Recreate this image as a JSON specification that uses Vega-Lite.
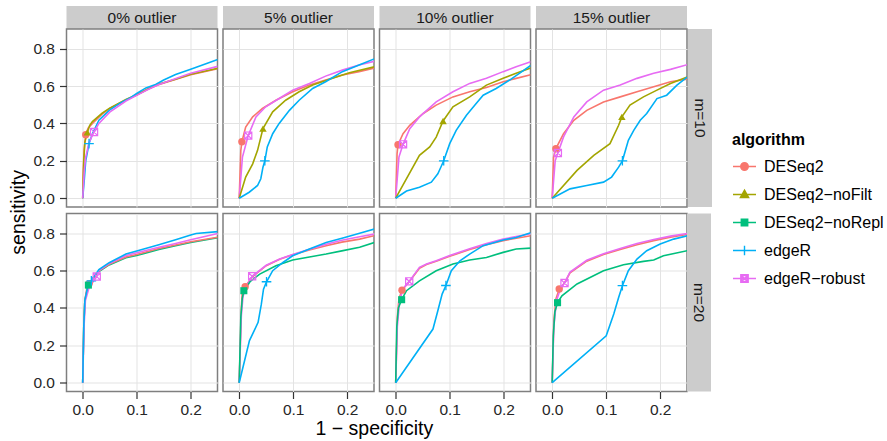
{
"$schema": "https://vega.github.io/schema/vega-lite/v6.json",
"padding": {"left": 8.5, "top": 6, "right": 0, "bottom": 0},
"config": {
  "font": "Liberation Sans",
  "view": {"stroke": "#7f7f7f", "strokeWidth": 1.5},
  "axis": {"domain": false, "tickColor": "#333333", "tickSize": 7, "tickWidth": 1.2, "labelFontSize": 15.5, "labelColor": "#262626", "labelFont": "Liberation Sans", "grid": true},
  "legend": {"labelFontSize": 16, "labelFont": "Liberation Sans", "labelColor": "#000000", "titleFontSize": 16, "titleFontWeight": "bold", "titleColor": "#000000", "titleFont": "Liberation Sans", "rowPadding": 7, "labelOffset": 7, "titlePadding": 6, "padding": 0, "symbolSize": 529, "symbolStrokeWidth": 1.4},
  "title": {"fontSize": 19.5, "fontWeight": "normal", "color": "#000000", "font": "Liberation Sans"}
},
"datasets": {
"roc": [
{"o":"0%","m":"10","a":"DESeq2","x":0,"y":0},{"o":"0%","m":"10","a":"DESeq2","x":0.001,"y":0.15},{"o":"0%","m":"10","a":"DESeq2","x":0.0025,"y":0.256},{"o":"0%","m":"10","a":"DESeq2","x":0.0056,"y":0.34},{"o":"0%","m":"10","a":"DESeq2","x":0.01,"y":0.375},{"o":"0%","m":"10","a":"DESeq2","x":0.018,"y":0.4},{"o":"0%","m":"10","a":"DESeq2","x":0.036,"y":0.45},{"o":"0%","m":"10","a":"DESeq2","x":0.05,"y":0.48},{"o":"0%","m":"10","a":"DESeq2","x":0.08,"y":0.525},{"o":"0%","m":"10","a":"DESeq2","x":0.1,"y":0.552},{"o":"0%","m":"10","a":"DESeq2","x":0.12,"y":0.583},{"o":"0%","m":"10","a":"DESeq2","x":0.14,"y":0.607},{"o":"0%","m":"10","a":"DESeq2","x":0.17,"y":0.633},{"o":"0%","m":"10","a":"DESeq2","x":0.2,"y":0.66},{"o":"0%","m":"10","a":"DESeq2","x":0.25,"y":0.692},
{"o":"0%","m":"10","a":"DESeq2-noFilt","x":0,"y":0},{"o":"0%","m":"10","a":"DESeq2-noFilt","x":0.002,"y":0.2},{"o":"0%","m":"10","a":"DESeq2-noFilt","x":0.004,"y":0.3},{"o":"0%","m":"10","a":"DESeq2-noFilt","x":0.0086,"y":0.351},{"o":"0%","m":"10","a":"DESeq2-noFilt","x":0.013,"y":0.39},{"o":"0%","m":"10","a":"DESeq2-noFilt","x":0.018,"y":0.41},{"o":"0%","m":"10","a":"DESeq2-noFilt","x":0.036,"y":0.455},{"o":"0%","m":"10","a":"DESeq2-noFilt","x":0.05,"y":0.482},{"o":"0%","m":"10","a":"DESeq2-noFilt","x":0.08,"y":0.528},{"o":"0%","m":"10","a":"DESeq2-noFilt","x":0.1,"y":0.553},{"o":"0%","m":"10","a":"DESeq2-noFilt","x":0.12,"y":0.583},{"o":"0%","m":"10","a":"DESeq2-noFilt","x":0.14,"y":0.61},{"o":"0%","m":"10","a":"DESeq2-noFilt","x":0.17,"y":0.635},{"o":"0%","m":"10","a":"DESeq2-noFilt","x":0.2,"y":0.663},{"o":"0%","m":"10","a":"DESeq2-noFilt","x":0.25,"y":0.695},
{"o":"0%","m":"10","a":"edgeR","x":0,"y":0},{"o":"0%","m":"10","a":"edgeR","x":0.003,"y":0.1},{"o":"0%","m":"10","a":"edgeR","x":0.0056,"y":0.2},{"o":"0%","m":"10","a":"edgeR","x":0.0117,"y":0.292},{"o":"0%","m":"10","a":"edgeR","x":0.018,"y":0.345},{"o":"0%","m":"10","a":"edgeR","x":0.03,"y":0.417},{"o":"0%","m":"10","a":"edgeR","x":0.049,"y":0.47},{"o":"0%","m":"10","a":"edgeR","x":0.07,"y":0.51},{"o":"0%","m":"10","a":"edgeR","x":0.09,"y":0.54},{"o":"0%","m":"10","a":"edgeR","x":0.1,"y":0.56},{"o":"0%","m":"10","a":"edgeR","x":0.117,"y":0.59},{"o":"0%","m":"10","a":"edgeR","x":0.135,"y":0.608},{"o":"0%","m":"10","a":"edgeR","x":0.15,"y":0.632},{"o":"0%","m":"10","a":"edgeR","x":0.172,"y":0.662},{"o":"0%","m":"10","a":"edgeR","x":0.2,"y":0.69},{"o":"0%","m":"10","a":"edgeR","x":0.25,"y":0.742},
{"o":"0%","m":"10","a":"edgeR-robust","x":0,"y":0},{"o":"0%","m":"10","a":"edgeR-robust","x":0.003,"y":0.15},{"o":"0%","m":"10","a":"edgeR-robust","x":0.0056,"y":0.22},{"o":"0%","m":"10","a":"edgeR-robust","x":0.012,"y":0.3},{"o":"0%","m":"10","a":"edgeR-robust","x":0.021,"y":0.354},{"o":"0%","m":"10","a":"edgeR-robust","x":0.03,"y":0.4},{"o":"0%","m":"10","a":"edgeR-robust","x":0.05,"y":0.46},{"o":"0%","m":"10","a":"edgeR-robust","x":0.08,"y":0.52},{"o":"0%","m":"10","a":"edgeR-robust","x":0.1,"y":0.55},{"o":"0%","m":"10","a":"edgeR-robust","x":0.12,"y":0.58},{"o":"0%","m":"10","a":"edgeR-robust","x":0.14,"y":0.607},{"o":"0%","m":"10","a":"edgeR-robust","x":0.17,"y":0.638},{"o":"0%","m":"10","a":"edgeR-robust","x":0.2,"y":0.668},{"o":"0%","m":"10","a":"edgeR-robust","x":0.25,"y":0.705},

{"o":"5%","m":"10","a":"DESeq2","x":0,"y":0},{"o":"5%","m":"10","a":"DESeq2","x":0.003,"y":0.256},{"o":"5%","m":"10","a":"DESeq2","x":0.005,"y":0.302},{"o":"5%","m":"10","a":"DESeq2","x":0.012,"y":0.38},{"o":"5%","m":"10","a":"DESeq2","x":0.025,"y":0.435},{"o":"5%","m":"10","a":"DESeq2","x":0.043,"y":0.48},{"o":"5%","m":"10","a":"DESeq2","x":0.068,"y":0.524},{"o":"5%","m":"10","a":"DESeq2","x":0.099,"y":0.569},{"o":"5%","m":"10","a":"DESeq2","x":0.13,"y":0.605},{"o":"5%","m":"10","a":"DESeq2","x":0.16,"y":0.632},{"o":"5%","m":"10","a":"DESeq2","x":0.191,"y":0.659},{"o":"5%","m":"10","a":"DESeq2","x":0.222,"y":0.677},{"o":"5%","m":"10","a":"DESeq2","x":0.25,"y":0.696},
{"o":"5%","m":"10","a":"edgeR-robust","x":0,"y":0},{"o":"5%","m":"10","a":"edgeR-robust","x":0.006,"y":0.22},{"o":"5%","m":"10","a":"edgeR-robust","x":0.0167,"y":0.335},{"o":"5%","m":"10","a":"edgeR-robust","x":0.031,"y":0.435},{"o":"5%","m":"10","a":"edgeR-robust","x":0.049,"y":0.489},{"o":"5%","m":"10","a":"edgeR-robust","x":0.074,"y":0.533},{"o":"5%","m":"10","a":"edgeR-robust","x":0.099,"y":0.578},{"o":"5%","m":"10","a":"edgeR-robust","x":0.13,"y":0.614},{"o":"5%","m":"10","a":"edgeR-robust","x":0.16,"y":0.653},{"o":"5%","m":"10","a":"edgeR-robust","x":0.191,"y":0.685},{"o":"5%","m":"10","a":"edgeR-robust","x":0.222,"y":0.712},{"o":"5%","m":"10","a":"edgeR-robust","x":0.25,"y":0.732},
{"o":"5%","m":"10","a":"DESeq2-noFilt","x":0,"y":0},{"o":"5%","m":"10","a":"DESeq2-noFilt","x":0.012,"y":0.113},{"o":"5%","m":"10","a":"DESeq2-noFilt","x":0.025,"y":0.184},{"o":"5%","m":"10","a":"DESeq2-noFilt","x":0.034,"y":0.256},{"o":"5%","m":"10","a":"DESeq2-noFilt","x":0.044,"y":0.372},{"o":"5%","m":"10","a":"DESeq2-noFilt","x":0.062,"y":0.462},{"o":"5%","m":"10","a":"DESeq2-noFilt","x":0.086,"y":0.524},{"o":"5%","m":"10","a":"DESeq2-noFilt","x":0.111,"y":0.569},{"o":"5%","m":"10","a":"DESeq2-noFilt","x":0.136,"y":0.605},{"o":"5%","m":"10","a":"DESeq2-noFilt","x":0.173,"y":0.641},{"o":"5%","m":"10","a":"DESeq2-noFilt","x":0.204,"y":0.671},{"o":"5%","m":"10","a":"DESeq2-noFilt","x":0.25,"y":0.703},
{"o":"5%","m":"10","a":"edgeR","x":0,"y":0},{"o":"5%","m":"10","a":"edgeR","x":0.0185,"y":0.032},{"o":"5%","m":"10","a":"edgeR","x":0.034,"y":0.068},{"o":"5%","m":"10","a":"edgeR","x":0.04,"y":0.104},{"o":"5%","m":"10","a":"edgeR","x":0.044,"y":0.166},{"o":"5%","m":"10","a":"edgeR","x":0.0475,"y":0.2},{"o":"5%","m":"10","a":"edgeR","x":0.052,"y":0.274},{"o":"5%","m":"10","a":"edgeR","x":0.062,"y":0.345},{"o":"5%","m":"10","a":"edgeR","x":0.074,"y":0.4},{"o":"5%","m":"10","a":"edgeR","x":0.093,"y":0.47},{"o":"5%","m":"10","a":"edgeR","x":0.111,"y":0.524},{"o":"5%","m":"10","a":"edgeR","x":0.136,"y":0.587},{"o":"5%","m":"10","a":"edgeR","x":0.16,"y":0.623},{"o":"5%","m":"10","a":"edgeR","x":0.191,"y":0.677},{"o":"5%","m":"10","a":"edgeR","x":0.222,"y":0.712},{"o":"5%","m":"10","a":"edgeR","x":0.25,"y":0.745},

{"o":"10%","m":"10","a":"DESeq2","x":0,"y":0},{"o":"10%","m":"10","a":"DESeq2","x":0.0025,"y":0.237},{"o":"10%","m":"10","a":"DESeq2","x":0.0043,"y":0.286},{"o":"10%","m":"10","a":"DESeq2","x":0.0136,"y":0.345},{"o":"10%","m":"10","a":"DESeq2","x":0.026,"y":0.39},{"o":"10%","m":"10","a":"DESeq2","x":0.051,"y":0.453},{"o":"10%","m":"10","a":"DESeq2","x":0.075,"y":0.498},{"o":"10%","m":"10","a":"DESeq2","x":0.106,"y":0.542},{"o":"10%","m":"10","a":"DESeq2","x":0.137,"y":0.569},{"o":"10%","m":"10","a":"DESeq2","x":0.168,"y":0.592},{"o":"10%","m":"10","a":"DESeq2","x":0.199,"y":0.623},{"o":"10%","m":"10","a":"DESeq2","x":0.223,"y":0.641},{"o":"10%","m":"10","a":"DESeq2","x":0.25,"y":0.66},
{"o":"10%","m":"10","a":"edgeR-robust","x":0,"y":0},{"o":"10%","m":"10","a":"edgeR-robust","x":0.006,"y":0.22},{"o":"10%","m":"10","a":"edgeR-robust","x":0.0136,"y":0.288},{"o":"10%","m":"10","a":"edgeR-robust","x":0.026,"y":0.372},{"o":"10%","m":"10","a":"edgeR-robust","x":0.044,"y":0.435},{"o":"10%","m":"10","a":"edgeR-robust","x":0.075,"y":0.515},{"o":"10%","m":"10","a":"edgeR-robust","x":0.106,"y":0.569},{"o":"10%","m":"10","a":"edgeR-robust","x":0.137,"y":0.614},{"o":"10%","m":"10","a":"edgeR-robust","x":0.168,"y":0.641},{"o":"10%","m":"10","a":"edgeR-robust","x":0.199,"y":0.677},{"o":"10%","m":"10","a":"edgeR-robust","x":0.223,"y":0.703},{"o":"10%","m":"10","a":"edgeR-robust","x":0.25,"y":0.73},
{"o":"10%","m":"10","a":"DESeq2-noFilt","x":0,"y":0},{"o":"10%","m":"10","a":"DESeq2-noFilt","x":0.044,"y":0.229},{"o":"10%","m":"10","a":"DESeq2-noFilt","x":0.063,"y":0.274},{"o":"10%","m":"10","a":"DESeq2-noFilt","x":0.075,"y":0.327},{"o":"10%","m":"10","a":"DESeq2-noFilt","x":0.0877,"y":0.413},{"o":"10%","m":"10","a":"DESeq2-noFilt","x":0.106,"y":0.489},{"o":"10%","m":"10","a":"DESeq2-noFilt","x":0.137,"y":0.542},{"o":"10%","m":"10","a":"DESeq2-noFilt","x":0.168,"y":0.605},{"o":"10%","m":"10","a":"DESeq2-noFilt","x":0.199,"y":0.641},{"o":"10%","m":"10","a":"DESeq2-noFilt","x":0.223,"y":0.668},{"o":"10%","m":"10","a":"DESeq2-noFilt","x":0.25,"y":0.696},
{"o":"10%","m":"10","a":"edgeR","x":0,"y":0},{"o":"10%","m":"10","a":"edgeR","x":0.02,"y":0.038},{"o":"10%","m":"10","a":"edgeR","x":0.044,"y":0.059},{"o":"10%","m":"10","a":"edgeR","x":0.066,"y":0.086},{"o":"10%","m":"10","a":"edgeR","x":0.078,"y":0.131},{"o":"10%","m":"10","a":"edgeR","x":0.085,"y":0.175},{"o":"10%","m":"10","a":"edgeR","x":0.0889,"y":0.2},{"o":"10%","m":"10","a":"edgeR","x":0.1,"y":0.292},{"o":"10%","m":"10","a":"edgeR","x":0.112,"y":0.363},{"o":"10%","m":"10","a":"edgeR","x":0.131,"y":0.444},{"o":"10%","m":"10","a":"edgeR","x":0.149,"y":0.506},{"o":"10%","m":"10","a":"edgeR","x":0.162,"y":0.551},{"o":"10%","m":"10","a":"edgeR","x":0.186,"y":0.587},{"o":"10%","m":"10","a":"edgeR","x":0.211,"y":0.632},{"o":"10%","m":"10","a":"edgeR","x":0.25,"y":0.71},

{"o":"15%","m":"10","a":"DESeq2","x":0,"y":0},{"o":"15%","m":"10","a":"DESeq2","x":0.0025,"y":0.22},{"o":"15%","m":"10","a":"DESeq2","x":0.0068,"y":0.265},{"o":"15%","m":"10","a":"DESeq2","x":0.021,"y":0.345},{"o":"15%","m":"10","a":"DESeq2","x":0.04,"y":0.417},{"o":"15%","m":"10","a":"DESeq2","x":0.064,"y":0.47},{"o":"15%","m":"10","a":"DESeq2","x":0.095,"y":0.515},{"o":"15%","m":"10","a":"DESeq2","x":0.126,"y":0.542},{"o":"15%","m":"10","a":"DESeq2","x":0.157,"y":0.569},{"o":"15%","m":"10","a":"DESeq2","x":0.188,"y":0.596},{"o":"15%","m":"10","a":"DESeq2","x":0.219,"y":0.623},{"o":"15%","m":"10","a":"DESeq2","x":0.25,"y":0.637},
{"o":"15%","m":"10","a":"edgeR-robust","x":0,"y":0},{"o":"15%","m":"10","a":"edgeR-robust","x":0.0055,"y":0.2},{"o":"15%","m":"10","a":"edgeR-robust","x":0.0105,"y":0.242},{"o":"15%","m":"10","a":"edgeR-robust","x":0.021,"y":0.328},{"o":"15%","m":"10","a":"edgeR-robust","x":0.04,"y":0.435},{"o":"15%","m":"10","a":"edgeR-robust","x":0.064,"y":0.515},{"o":"15%","m":"10","a":"edgeR-robust","x":0.095,"y":0.578},{"o":"15%","m":"10","a":"edgeR-robust","x":0.126,"y":0.605},{"o":"15%","m":"10","a":"edgeR-robust","x":0.157,"y":0.641},{"o":"15%","m":"10","a":"edgeR-robust","x":0.188,"y":0.668},{"o":"15%","m":"10","a":"edgeR-robust","x":0.219,"y":0.689},{"o":"15%","m":"10","a":"edgeR-robust","x":0.25,"y":0.714},
{"o":"15%","m":"10","a":"DESeq2-noFilt","x":0,"y":0},{"o":"15%","m":"10","a":"DESeq2-noFilt","x":0.046,"y":0.149},{"o":"15%","m":"10","a":"DESeq2-noFilt","x":0.077,"y":0.229},{"o":"15%","m":"10","a":"DESeq2-noFilt","x":0.107,"y":0.292},{"o":"15%","m":"10","a":"DESeq2-noFilt","x":0.123,"y":0.39},{"o":"15%","m":"10","a":"DESeq2-noFilt","x":0.129,"y":0.435},{"o":"15%","m":"10","a":"DESeq2-noFilt","x":0.144,"y":0.498},{"o":"15%","m":"10","a":"DESeq2-noFilt","x":0.169,"y":0.542},{"o":"15%","m":"10","a":"DESeq2-noFilt","x":0.194,"y":0.578},{"o":"15%","m":"10","a":"DESeq2-noFilt","x":0.219,"y":0.614},{"o":"15%","m":"10","a":"DESeq2-noFilt","x":0.25,"y":0.648},
{"o":"15%","m":"10","a":"edgeR","x":0,"y":0},{"o":"15%","m":"10","a":"edgeR","x":0.033,"y":0.05},{"o":"15%","m":"10","a":"edgeR","x":0.064,"y":0.068},{"o":"15%","m":"10","a":"edgeR","x":0.095,"y":0.086},{"o":"15%","m":"10","a":"edgeR","x":0.11,"y":0.113},{"o":"15%","m":"10","a":"edgeR","x":0.123,"y":0.166},{"o":"15%","m":"10","a":"edgeR","x":0.13,"y":0.2},{"o":"15%","m":"10","a":"edgeR","x":0.141,"y":0.31},{"o":"15%","m":"10","a":"edgeR","x":0.151,"y":0.363},{"o":"15%","m":"10","a":"edgeR","x":0.163,"y":0.417},{"o":"15%","m":"10","a":"edgeR","x":0.175,"y":0.453},{"o":"15%","m":"10","a":"edgeR","x":0.194,"y":0.533},{"o":"15%","m":"10","a":"edgeR","x":0.212,"y":0.551},{"o":"15%","m":"10","a":"edgeR","x":0.231,"y":0.605},{"o":"15%","m":"10","a":"edgeR","x":0.25,"y":0.648},

{"o":"0%","m":"20","a":"DESeq2-noRepl","x":0,"y":0},{"o":"0%","m":"20","a":"DESeq2-noRepl","x":0.002,"y":0.3},{"o":"0%","m":"20","a":"DESeq2-noRepl","x":0.004,"y":0.44},{"o":"0%","m":"20","a":"DESeq2-noRepl","x":0.0105,"y":0.522},{"o":"0%","m":"20","a":"DESeq2-noRepl","x":0.02,"y":0.565},{"o":"0%","m":"20","a":"DESeq2-noRepl","x":0.03,"y":0.595},{"o":"0%","m":"20","a":"DESeq2-noRepl","x":0.049,"y":0.63},{"o":"0%","m":"20","a":"DESeq2-noRepl","x":0.08,"y":0.668},{"o":"0%","m":"20","a":"DESeq2-noRepl","x":0.1,"y":0.68},{"o":"0%","m":"20","a":"DESeq2-noRepl","x":0.141,"y":0.713},{"o":"0%","m":"20","a":"DESeq2-noRepl","x":0.172,"y":0.733},{"o":"0%","m":"20","a":"DESeq2-noRepl","x":0.2,"y":0.75},{"o":"0%","m":"20","a":"DESeq2-noRepl","x":0.25,"y":0.775},
{"o":"0%","m":"20","a":"DESeq2","x":0,"y":0},{"o":"0%","m":"20","a":"DESeq2","x":0.002,"y":0.3},{"o":"0%","m":"20","a":"DESeq2","x":0.004,"y":0.44},{"o":"0%","m":"20","a":"DESeq2","x":0.008,"y":0.51},{"o":"0%","m":"20","a":"DESeq2","x":0.014,"y":0.535},{"o":"0%","m":"20","a":"DESeq2","x":0.03,"y":0.598},{"o":"0%","m":"20","a":"DESeq2","x":0.049,"y":0.633},{"o":"0%","m":"20","a":"DESeq2","x":0.08,"y":0.672},{"o":"0%","m":"20","a":"DESeq2","x":0.1,"y":0.686},{"o":"0%","m":"20","a":"DESeq2","x":0.141,"y":0.718},{"o":"0%","m":"20","a":"DESeq2","x":0.172,"y":0.737},{"o":"0%","m":"20","a":"DESeq2","x":0.2,"y":0.754},{"o":"0%","m":"20","a":"DESeq2","x":0.25,"y":0.778},
{"o":"0%","m":"20","a":"edgeR-robust","x":0,"y":0},{"o":"0%","m":"20","a":"edgeR-robust","x":0.0025,"y":0.3},{"o":"0%","m":"20","a":"edgeR-robust","x":0.005,"y":0.44},{"o":"0%","m":"20","a":"edgeR-robust","x":0.012,"y":0.51},{"o":"0%","m":"20","a":"edgeR-robust","x":0.026,"y":0.568},{"o":"0%","m":"20","a":"edgeR-robust","x":0.03,"y":0.6},{"o":"0%","m":"20","a":"edgeR-robust","x":0.049,"y":0.638},{"o":"0%","m":"20","a":"edgeR-robust","x":0.08,"y":0.68},{"o":"0%","m":"20","a":"edgeR-robust","x":0.1,"y":0.695},{"o":"0%","m":"20","a":"edgeR-robust","x":0.141,"y":0.724},{"o":"0%","m":"20","a":"edgeR-robust","x":0.172,"y":0.745},{"o":"0%","m":"20","a":"edgeR-robust","x":0.2,"y":0.765},{"o":"0%","m":"20","a":"edgeR-robust","x":0.25,"y":0.798},
{"o":"0%","m":"20","a":"edgeR","x":0,"y":0},{"o":"0%","m":"20","a":"edgeR","x":0.002,"y":0.3},{"o":"0%","m":"20","a":"edgeR","x":0.004,"y":0.44},{"o":"0%","m":"20","a":"edgeR","x":0.009,"y":0.51},{"o":"0%","m":"20","a":"edgeR","x":0.018,"y":0.555},{"o":"0%","m":"20","a":"edgeR","x":0.03,"y":0.605},{"o":"0%","m":"20","a":"edgeR","x":0.049,"y":0.642},{"o":"0%","m":"20","a":"edgeR","x":0.08,"y":0.688},{"o":"0%","m":"20","a":"edgeR","x":0.1,"y":0.705},{"o":"0%","m":"20","a":"edgeR","x":0.141,"y":0.738},{"o":"0%","m":"20","a":"edgeR","x":0.172,"y":0.765},{"o":"0%","m":"20","a":"edgeR","x":0.2,"y":0.79},{"o":"0%","m":"20","a":"edgeR","x":0.21,"y":0.798},{"o":"0%","m":"20","a":"edgeR","x":0.25,"y":0.808},

{"o":"5%","m":"20","a":"DESeq2","x":0,"y":0},{"o":"5%","m":"20","a":"DESeq2","x":0.0037,"y":0.385},{"o":"5%","m":"20","a":"DESeq2","x":0.0056,"y":0.483},{"o":"5%","m":"20","a":"DESeq2","x":0.011,"y":0.513},{"o":"5%","m":"20","a":"DESeq2","x":0.024,"y":0.565},{"o":"5%","m":"20","a":"DESeq2","x":0.05,"y":0.626},{"o":"5%","m":"20","a":"DESeq2","x":0.075,"y":0.66},{"o":"5%","m":"20","a":"DESeq2","x":0.099,"y":0.684},{"o":"5%","m":"20","a":"DESeq2","x":0.13,"y":0.71},{"o":"5%","m":"20","a":"DESeq2","x":0.161,"y":0.733},{"o":"5%","m":"20","a":"DESeq2","x":0.19,"y":0.752},{"o":"5%","m":"20","a":"DESeq2","x":0.223,"y":0.768},{"o":"5%","m":"20","a":"DESeq2","x":0.25,"y":0.786},
{"o":"5%","m":"20","a":"edgeR-robust","x":0,"y":0},{"o":"5%","m":"20","a":"edgeR-robust","x":0.004,"y":0.36},{"o":"5%","m":"20","a":"edgeR-robust","x":0.007,"y":0.46},{"o":"5%","m":"20","a":"edgeR-robust","x":0.012,"y":0.51},{"o":"5%","m":"20","a":"edgeR-robust","x":0.024,"y":0.569},{"o":"5%","m":"20","a":"edgeR-robust","x":0.05,"y":0.628},{"o":"5%","m":"20","a":"edgeR-robust","x":0.075,"y":0.662},{"o":"5%","m":"20","a":"edgeR-robust","x":0.099,"y":0.686},{"o":"5%","m":"20","a":"edgeR-robust","x":0.13,"y":0.714},{"o":"5%","m":"20","a":"edgeR-robust","x":0.161,"y":0.74},{"o":"5%","m":"20","a":"edgeR-robust","x":0.19,"y":0.762},{"o":"5%","m":"20","a":"edgeR-robust","x":0.223,"y":0.781},{"o":"5%","m":"20","a":"edgeR-robust","x":0.25,"y":0.795},
{"o":"5%","m":"20","a":"DESeq2-noRepl","x":0,"y":0},{"o":"5%","m":"20","a":"DESeq2-noRepl","x":0.003,"y":0.35},{"o":"5%","m":"20","a":"DESeq2-noRepl","x":0.0056,"y":0.45},{"o":"5%","m":"20","a":"DESeq2-noRepl","x":0.0086,"y":0.492},{"o":"5%","m":"20","a":"DESeq2-noRepl","x":0.02,"y":0.54},{"o":"5%","m":"20","a":"DESeq2-noRepl","x":0.038,"y":0.581},{"o":"5%","m":"20","a":"DESeq2-noRepl","x":0.068,"y":0.626},{"o":"5%","m":"20","a":"DESeq2-noRepl","x":0.099,"y":0.656},{"o":"5%","m":"20","a":"DESeq2-noRepl","x":0.13,"y":0.672},{"o":"5%","m":"20","a":"DESeq2-noRepl","x":0.161,"y":0.688},{"o":"5%","m":"20","a":"DESeq2-noRepl","x":0.19,"y":0.705},{"o":"5%","m":"20","a":"DESeq2-noRepl","x":0.223,"y":0.724},{"o":"5%","m":"20","a":"DESeq2-noRepl","x":0.25,"y":0.75},
{"o":"5%","m":"20","a":"edgeR","x":0,"y":0},{"o":"5%","m":"20","a":"edgeR","x":0.019,"y":0.225},{"o":"5%","m":"20","a":"edgeR","x":0.035,"y":0.323},{"o":"5%","m":"20","a":"edgeR","x":0.041,"y":0.42},{"o":"5%","m":"20","a":"edgeR","x":0.045,"y":0.5},{"o":"5%","m":"20","a":"edgeR","x":0.0506,"y":0.54},{"o":"5%","m":"20","a":"edgeR","x":0.062,"y":0.599},{"o":"5%","m":"20","a":"edgeR","x":0.081,"y":0.643},{"o":"5%","m":"20","a":"edgeR","x":0.099,"y":0.679},{"o":"5%","m":"20","a":"edgeR","x":0.13,"y":0.715},{"o":"5%","m":"20","a":"edgeR","x":0.161,"y":0.75},{"o":"5%","m":"20","a":"edgeR","x":0.192,"y":0.774},{"o":"5%","m":"20","a":"edgeR","x":0.223,"y":0.799},{"o":"5%","m":"20","a":"edgeR","x":0.25,"y":0.822},

{"o":"10%","m":"20","a":"DESeq2","x":0,"y":0},{"o":"10%","m":"20","a":"DESeq2","x":0.003,"y":0.35},{"o":"10%","m":"20","a":"DESeq2","x":0.006,"y":0.45},{"o":"10%","m":"20","a":"DESeq2","x":0.0117,"y":0.495},{"o":"10%","m":"20","a":"DESeq2","x":0.025,"y":0.54},{"o":"10%","m":"20","a":"DESeq2","x":0.044,"y":0.612},{"o":"10%","m":"20","a":"DESeq2","x":0.057,"y":0.632},{"o":"10%","m":"20","a":"DESeq2","x":0.075,"y":0.65},{"o":"10%","m":"20","a":"DESeq2","x":0.1,"y":0.676},{"o":"10%","m":"20","a":"DESeq2","x":0.137,"y":0.712},{"o":"10%","m":"20","a":"DESeq2","x":0.168,"y":0.738},{"o":"10%","m":"20","a":"DESeq2","x":0.199,"y":0.76},{"o":"10%","m":"20","a":"DESeq2","x":0.25,"y":0.786},
{"o":"10%","m":"20","a":"edgeR-robust","x":0,"y":0},{"o":"10%","m":"20","a":"edgeR-robust","x":0.003,"y":0.3},{"o":"10%","m":"20","a":"edgeR-robust","x":0.007,"y":0.43},{"o":"10%","m":"20","a":"edgeR-robust","x":0.013,"y":0.5},{"o":"10%","m":"20","a":"edgeR-robust","x":0.025,"y":0.542},{"o":"10%","m":"20","a":"edgeR-robust","x":0.044,"y":0.617},{"o":"10%","m":"20","a":"edgeR-robust","x":0.057,"y":0.635},{"o":"10%","m":"20","a":"edgeR-robust","x":0.075,"y":0.652},{"o":"10%","m":"20","a":"edgeR-robust","x":0.1,"y":0.68},{"o":"10%","m":"20","a":"edgeR-robust","x":0.137,"y":0.717},{"o":"10%","m":"20","a":"edgeR-robust","x":0.168,"y":0.745},{"o":"10%","m":"20","a":"edgeR-robust","x":0.199,"y":0.768},{"o":"10%","m":"20","a":"edgeR-robust","x":0.25,"y":0.797},
{"o":"10%","m":"20","a":"DESeq2-noRepl","x":0,"y":0},{"o":"10%","m":"20","a":"DESeq2-noRepl","x":0.002,"y":0.3},{"o":"10%","m":"20","a":"DESeq2-noRepl","x":0.005,"y":0.4},{"o":"10%","m":"20","a":"DESeq2-noRepl","x":0.011,"y":0.444},{"o":"10%","m":"20","a":"DESeq2-noRepl","x":0.02,"y":0.492},{"o":"10%","m":"20","a":"DESeq2-noRepl","x":0.044,"y":0.545},{"o":"10%","m":"20","a":"DESeq2-noRepl","x":0.075,"y":0.599},{"o":"10%","m":"20","a":"DESeq2-noRepl","x":0.106,"y":0.635},{"o":"10%","m":"20","a":"DESeq2-noRepl","x":0.137,"y":0.656},{"o":"10%","m":"20","a":"DESeq2-noRepl","x":0.168,"y":0.67},{"o":"10%","m":"20","a":"DESeq2-noRepl","x":0.199,"y":0.697},{"o":"10%","m":"20","a":"DESeq2-noRepl","x":0.223,"y":0.715},{"o":"10%","m":"20","a":"DESeq2-noRepl","x":0.25,"y":0.72},
{"o":"10%","m":"20","a":"edgeR","x":0,"y":0},{"o":"10%","m":"20","a":"edgeR","x":0.069,"y":0.287},{"o":"10%","m":"20","a":"edgeR","x":0.078,"y":0.385},{"o":"10%","m":"20","a":"edgeR","x":0.086,"y":0.474},{"o":"10%","m":"20","a":"edgeR","x":0.093,"y":0.52},{"o":"10%","m":"20","a":"edgeR","x":0.103,"y":0.599},{"o":"10%","m":"20","a":"edgeR","x":0.119,"y":0.652},{"o":"10%","m":"20","a":"edgeR","x":0.137,"y":0.688},{"o":"10%","m":"20","a":"edgeR","x":0.162,"y":0.733},{"o":"10%","m":"20","a":"edgeR","x":0.199,"y":0.763},{"o":"10%","m":"20","a":"edgeR","x":0.223,"y":0.777},{"o":"10%","m":"20","a":"edgeR","x":0.25,"y":0.802},

{"o":"15%","m":"20","a":"DESeq2","x":0,"y":0},{"o":"15%","m":"20","a":"DESeq2","x":0.003,"y":0.33},{"o":"15%","m":"20","a":"DESeq2","x":0.007,"y":0.45},{"o":"15%","m":"20","a":"DESeq2","x":0.013,"y":0.501},{"o":"15%","m":"20","a":"DESeq2","x":0.023,"y":0.535},{"o":"15%","m":"20","a":"DESeq2","x":0.033,"y":0.588},{"o":"15%","m":"20","a":"DESeq2","x":0.064,"y":0.65},{"o":"15%","m":"20","a":"DESeq2","x":0.095,"y":0.686},{"o":"15%","m":"20","a":"DESeq2","x":0.126,"y":0.712},{"o":"15%","m":"20","a":"DESeq2","x":0.157,"y":0.738},{"o":"15%","m":"20","a":"DESeq2","x":0.188,"y":0.76},{"o":"15%","m":"20","a":"DESeq2","x":0.219,"y":0.778},{"o":"15%","m":"20","a":"DESeq2","x":0.25,"y":0.793},
{"o":"15%","m":"20","a":"edgeR-robust","x":0,"y":0},{"o":"15%","m":"20","a":"edgeR-robust","x":0.003,"y":0.3},{"o":"15%","m":"20","a":"edgeR-robust","x":0.008,"y":0.44},{"o":"15%","m":"20","a":"edgeR-robust","x":0.015,"y":0.5},{"o":"15%","m":"20","a":"edgeR-robust","x":0.0228,"y":0.533},{"o":"15%","m":"20","a":"edgeR-robust","x":0.033,"y":0.592},{"o":"15%","m":"20","a":"edgeR-robust","x":0.064,"y":0.655},{"o":"15%","m":"20","a":"edgeR-robust","x":0.095,"y":0.69},{"o":"15%","m":"20","a":"edgeR-robust","x":0.126,"y":0.718},{"o":"15%","m":"20","a":"edgeR-robust","x":0.157,"y":0.745},{"o":"15%","m":"20","a":"edgeR-robust","x":0.188,"y":0.766},{"o":"15%","m":"20","a":"edgeR-robust","x":0.219,"y":0.784},{"o":"15%","m":"20","a":"edgeR-robust","x":0.25,"y":0.798},
{"o":"15%","m":"20","a":"DESeq2-noRepl","x":0,"y":0},{"o":"15%","m":"20","a":"DESeq2-noRepl","x":0.002,"y":0.25},{"o":"15%","m":"20","a":"DESeq2-noRepl","x":0.005,"y":0.38},{"o":"15%","m":"20","a":"DESeq2-noRepl","x":0.0099,"y":0.428},{"o":"15%","m":"20","a":"DESeq2-noRepl","x":0.018,"y":0.465},{"o":"15%","m":"20","a":"DESeq2-noRepl","x":0.046,"y":0.528},{"o":"15%","m":"20","a":"DESeq2-noRepl","x":0.095,"y":0.599},{"o":"15%","m":"20","a":"DESeq2-noRepl","x":0.132,"y":0.631},{"o":"15%","m":"20","a":"DESeq2-noRepl","x":0.169,"y":0.649},{"o":"15%","m":"20","a":"DESeq2-noRepl","x":0.188,"y":0.656},{"o":"15%","m":"20","a":"DESeq2-noRepl","x":0.206,"y":0.679},{"o":"15%","m":"20","a":"DESeq2-noRepl","x":0.25,"y":0.706},
{"o":"15%","m":"20","a":"edgeR","x":0,"y":0},{"o":"15%","m":"20","a":"edgeR","x":0.1,"y":0.251},{"o":"15%","m":"20","a":"edgeR","x":0.114,"y":0.367},{"o":"15%","m":"20","a":"edgeR","x":0.123,"y":0.456},{"o":"15%","m":"20","a":"edgeR","x":0.13,"y":0.519},{"o":"15%","m":"20","a":"edgeR","x":0.141,"y":0.599},{"o":"15%","m":"20","a":"edgeR","x":0.157,"y":0.661},{"o":"15%","m":"20","a":"edgeR","x":0.175,"y":0.706},{"o":"15%","m":"20","a":"edgeR","x":0.2,"y":0.742},{"o":"15%","m":"20","a":"edgeR","x":0.225,"y":0.768},{"o":"15%","m":"20","a":"edgeR","x":0.25,"y":0.786}
],
"pts": [
{"o":"0%","m":"10","a":"DESeq2","x":0.0056,"y":0.34},{"o":"0%","m":"10","a":"DESeq2-noFilt","x":0.0086,"y":0.352},{"o":"0%","m":"10","a":"edgeR","x":0.0117,"y":0.292},{"o":"0%","m":"10","a":"edgeR-robust","x":0.021,"y":0.354},
{"o":"5%","m":"10","a":"DESeq2","x":0.005,"y":0.302},{"o":"5%","m":"10","a":"DESeq2-noFilt","x":0.044,"y":0.372},{"o":"5%","m":"10","a":"edgeR","x":0.0475,"y":0.2},{"o":"5%","m":"10","a":"edgeR-robust","x":0.0167,"y":0.335},
{"o":"10%","m":"10","a":"DESeq2","x":0.0043,"y":0.286},{"o":"10%","m":"10","a":"DESeq2-noFilt","x":0.0877,"y":0.413},{"o":"10%","m":"10","a":"edgeR","x":0.0889,"y":0.2},{"o":"10%","m":"10","a":"edgeR-robust","x":0.0136,"y":0.288},
{"o":"15%","m":"10","a":"DESeq2","x":0.0068,"y":0.265},{"o":"15%","m":"10","a":"DESeq2-noFilt","x":0.129,"y":0.435},{"o":"15%","m":"10","a":"edgeR","x":0.13,"y":0.2},{"o":"15%","m":"10","a":"edgeR-robust","x":0.0105,"y":0.242},
{"o":"0%","m":"20","a":"DESeq2","x":0.012,"y":0.53},{"o":"0%","m":"20","a":"DESeq2-noRepl","x":0.0105,"y":0.522},{"o":"0%","m":"20","a":"edgeR","x":0.016,"y":0.545},{"o":"0%","m":"20","a":"edgeR-robust","x":0.026,"y":0.568},
{"o":"5%","m":"20","a":"DESeq2","x":0.011,"y":0.513},{"o":"5%","m":"20","a":"DESeq2-noRepl","x":0.0086,"y":0.492},{"o":"5%","m":"20","a":"edgeR","x":0.0506,"y":0.54},{"o":"5%","m":"20","a":"edgeR-robust","x":0.024,"y":0.569},
{"o":"10%","m":"20","a":"DESeq2","x":0.0117,"y":0.495},{"o":"10%","m":"20","a":"DESeq2-noRepl","x":0.011,"y":0.444},{"o":"10%","m":"20","a":"edgeR","x":0.093,"y":0.52},{"o":"10%","m":"20","a":"edgeR-robust","x":0.025,"y":0.542},
{"o":"15%","m":"20","a":"DESeq2","x":0.013,"y":0.501},{"o":"15%","m":"20","a":"DESeq2-noRepl","x":0.0099,"y":0.428},{"o":"15%","m":"20","a":"edgeR","x":0.13,"y":0.519},{"o":"15%","m":"20","a":"edgeR-robust","x":0.0228,"y":0.533}
]
},
"bounds": "full",
"vconcat": [
{
"title": {"text": "1 − specificity", "orient": "bottom", "anchor": "middle", "dx": 14, "offset": 1},
"vconcat": [
{
"title": {"text": "sensitivity", "orient": "left", "anchor": "middle", "offset": 3},
"spacing": 4.5,
"vconcat": [
{
"spacing": 3.5,
"hconcat": [
{"spacing": 0, "bounds": "flush", "vconcat": [
  {"width": 151, "height": 23, "view": {"fill": "#cccccc"}, "data": {"values": [{"t": "0% outlier"}]}, "mark": {"type": "text", "fontSize": 15.5, "color": "#1a1a1a", "baseline": "middle", "align": "center"}, "encoding": {"text": {"field": "t", "type": "nominal"}}},
  {"width": 151, "height": 178, "layer": [
    {"data": {"name": "roc"}, "transform": [{"filter": "datum.o=='0%' && datum.m=='10'"}], "mark": {"type": "line", "strokeWidth": 1.6, "clip": true},
     "encoding": {
      "x": {"field": "x", "type": "quantitative", "scale": {"domain": [-0.03, 0.2496], "nice": false, "zero": false}, "axis": {"values": [0,0.05,0.1,0.15,0.2], "title": null, "labels": false, "ticks": false, "minExtent": 0, "gridColor": {"condition": {"test": "round(datum.value*100) % 10 != 0", "value": "#f3f3f3"}, "value": "#e3e3e3"}, "gridWidth": {"condition": {"test": "round(datum.value*100) % 10 != 0", "value": 1.6}, "value": 1}}},
      "y": {"field": "y", "type": "quantitative", "scale": {"domain": [-0.047, 0.905], "nice": false, "zero": false}, "axis": {"values": [0,0.1,0.2,0.3,0.4,0.5,0.6,0.7,0.8], "title": null, "labelExpr": "round(datum.value*10) % 2 == 0 ? format(datum.value, '.1f') : ''", "labelOverlap": false, "labelFlush": false, "labelPadding": 5, "tickOpacity": {"condition": {"test": "round(datum.value*10) % 2 != 0", "value": 0}, "value": 1}, "gridColor": {"condition": {"test": "round(datum.value*10) % 2 != 0", "value": "#f3f3f3"}, "value": "#e3e3e3"}, "gridWidth": {"condition": {"test": "round(datum.value*10) % 2 != 0", "value": 1.6}, "value": 1}}},
      "color": {"field": "a", "type": "nominal", "scale": {"domain": ["DESeq2","DESeq2-noFilt","DESeq2-noRepl","edgeR","edgeR-robust"], "range": ["#F8766D","#A3A500","#00BF7D","#00B0F6","#E76BF3"]},
        "legend": {"title": "algorithm", "orient": "none", "legendX": 665.5, "legendY": 126, "labelExpr": "replace(datum.label, '-', '−')",
          "symbolType": {"expr": "datum.value=='DESeq2' ? 'M-1,0H1M0.33,0A0.33,0.33,0,1,1,-0.33,0A0.33,0.33,0,1,1,0.33,0Z' : datum.value=='DESeq2-noFilt' ? 'M-1,0H1M0,-0.38L0.36,0.26L-0.36,0.26Z' : datum.value=='DESeq2-noRepl' ? 'M-1,0H1M-0.28,-0.28H0.28V0.28H-0.28Z' : datum.value=='edgeR' ? 'M-1,0H1M0,-0.42V0.42' : 'M-1,0H1M-0.32,-0.32H0.32V0.32H-0.32ZM-0.25,-0.25V0.25H0.25V-0.25ZM-0.32,-0.32L0.32,0.32M-0.32,0.32L0.32,-0.32'"}}}}},
    {"data": {"name": "pts"}, "transform": [{"filter": "datum.o=='0%' && datum.m=='10' && datum.a=='DESeq2'"}], "mark": {"type": "point", "shape": "circle", "filled": true, "size": 55, "opacity": 1}, "encoding": {"x": {"field": "x", "type": "quantitative"}, "y": {"field": "y", "type": "quantitative"}, "color": {"field": "a", "type": "nominal"}}},
    {"data": {"name": "pts"}, "transform": [{"filter": "datum.o=='0%' && datum.m=='10' && datum.a=='DESeq2-noFilt'"}], "mark": {"type": "point", "shape": "triangle-up", "filled": true, "size": 55, "opacity": 1}, "encoding": {"x": {"field": "x", "type": "quantitative"}, "y": {"field": "y", "type": "quantitative"}, "color": {"field": "a", "type": "nominal"}}},
    {"data": {"name": "pts"}, "transform": [{"filter": "datum.o=='0%' && datum.m=='10' && datum.a=='edgeR'"}], "mark": {"type": "point", "shape": "M-1.2,0H1.2M0,-1.2V1.2", "filled": false, "size": 64, "strokeWidth": 1.3, "opacity": 1}, "encoding": {"x": {"field": "x", "type": "quantitative"}, "y": {"field": "y", "type": "quantitative"}, "color": {"field": "a", "type": "nominal"}}},
    {"data": {"name": "pts"}, "transform": [{"filter": "datum.o=='0%' && datum.m=='10' && datum.a=='edgeR-robust'"}], "mark": {"type": "point", "shape": "M-0.9,-0.9H0.9V0.9H-0.9ZM-0.9,-0.9L0.9,0.9M-0.9,0.9L0.9,-0.9", "filled": false, "size": 64, "strokeWidth": 1.2, "opacity": 1}, "encoding": {"x": {"field": "x", "type": "quantitative"}, "y": {"field": "y", "type": "quantitative"}, "color": {"field": "a", "type": "nominal"}}}
  ]}
]},
{"spacing": 0, "bounds": "flush", "vconcat": [
  {"width": 151, "height": 23, "view": {"fill": "#cccccc"}, "data": {"values": [{"t": "5% outlier"}]}, "mark": {"type": "text", "fontSize": 15.5, "color": "#1a1a1a", "baseline": "middle", "align": "center"}, "encoding": {"text": {"field": "t", "type": "nominal"}}},
  {"width": 151, "height": 178, "layer": [
    {"data": {"name": "roc"}, "transform": [{"filter": "datum.o=='5%' && datum.m=='10'"}], "mark": {"type": "line", "strokeWidth": 1.6, "clip": true},
     "encoding": {
      "x": {"field": "x", "type": "quantitative", "scale": {"domain": [-0.03, 0.2496], "nice": false, "zero": false}, "axis": {"values": [0,0.05,0.1,0.15,0.2], "title": null, "labels": false, "ticks": false, "minExtent": 0, "gridColor": {"condition": {"test": "round(datum.value*100) % 10 != 0", "value": "#f3f3f3"}, "value": "#e3e3e3"}, "gridWidth": {"condition": {"test": "round(datum.value*100) % 10 != 0", "value": 1.6}, "value": 1}}},
      "y": {"field": "y", "type": "quantitative", "scale": {"domain": [-0.047, 0.905], "nice": false, "zero": false}, "axis": {"values": [0,0.1,0.2,0.3,0.4,0.5,0.6,0.7,0.8], "title": null, "labels": false, "ticks": false, "minExtent": 0, "gridColor": {"condition": {"test": "round(datum.value*10) % 2 != 0", "value": "#f3f3f3"}, "value": "#e3e3e3"}, "gridWidth": {"condition": {"test": "round(datum.value*10) % 2 != 0", "value": 1.6}, "value": 1}}},
      "color": {"field": "a", "type": "nominal"}}},
    {"data": {"name": "pts"}, "transform": [{"filter": "datum.o=='5%' && datum.m=='10' && datum.a=='DESeq2'"}], "mark": {"type": "point", "shape": "circle", "filled": true, "size": 55, "opacity": 1}, "encoding": {"x": {"field": "x", "type": "quantitative"}, "y": {"field": "y", "type": "quantitative"}, "color": {"field": "a", "type": "nominal"}}},
    {"data": {"name": "pts"}, "transform": [{"filter": "datum.o=='5%' && datum.m=='10' && datum.a=='DESeq2-noFilt'"}], "mark": {"type": "point", "shape": "triangle-up", "filled": true, "size": 55, "opacity": 1}, "encoding": {"x": {"field": "x", "type": "quantitative"}, "y": {"field": "y", "type": "quantitative"}, "color": {"field": "a", "type": "nominal"}}},
    {"data": {"name": "pts"}, "transform": [{"filter": "datum.o=='5%' && datum.m=='10' && datum.a=='edgeR'"}], "mark": {"type": "point", "shape": "M-1.2,0H1.2M0,-1.2V1.2", "filled": false, "size": 64, "strokeWidth": 1.3, "opacity": 1}, "encoding": {"x": {"field": "x", "type": "quantitative"}, "y": {"field": "y", "type": "quantitative"}, "color": {"field": "a", "type": "nominal"}}},
    {"data": {"name": "pts"}, "transform": [{"filter": "datum.o=='5%' && datum.m=='10' && datum.a=='edgeR-robust'"}], "mark": {"type": "point", "shape": "M-0.9,-0.9H0.9V0.9H-0.9ZM-0.9,-0.9L0.9,0.9M-0.9,0.9L0.9,-0.9", "filled": false, "size": 64, "strokeWidth": 1.2, "opacity": 1}, "encoding": {"x": {"field": "x", "type": "quantitative"}, "y": {"field": "y", "type": "quantitative"}, "color": {"field": "a", "type": "nominal"}}}
  ]}
]},
{"spacing": 0, "bounds": "flush", "vconcat": [
  {"width": 151, "height": 23, "view": {"fill": "#cccccc"}, "data": {"values": [{"t": "10% outlier"}]}, "mark": {"type": "text", "fontSize": 15.5, "color": "#1a1a1a", "baseline": "middle", "align": "center"}, "encoding": {"text": {"field": "t", "type": "nominal"}}},
  {"width": 151, "height": 178, "layer": [
    {"data": {"name": "roc"}, "transform": [{"filter": "datum.o=='10%' && datum.m=='10'"}], "mark": {"type": "line", "strokeWidth": 1.6, "clip": true},
     "encoding": {
      "x": {"field": "x", "type": "quantitative", "scale": {"domain": [-0.03, 0.2496], "nice": false, "zero": false}, "axis": {"values": [0,0.05,0.1,0.15,0.2], "title": null, "labels": false, "ticks": false, "minExtent": 0, "gridColor": {"condition": {"test": "round(datum.value*100) % 10 != 0", "value": "#f3f3f3"}, "value": "#e3e3e3"}, "gridWidth": {"condition": {"test": "round(datum.value*100) % 10 != 0", "value": 1.6}, "value": 1}}},
      "y": {"field": "y", "type": "quantitative", "scale": {"domain": [-0.047, 0.905], "nice": false, "zero": false}, "axis": {"values": [0,0.1,0.2,0.3,0.4,0.5,0.6,0.7,0.8], "title": null, "labels": false, "ticks": false, "minExtent": 0, "gridColor": {"condition": {"test": "round(datum.value*10) % 2 != 0", "value": "#f3f3f3"}, "value": "#e3e3e3"}, "gridWidth": {"condition": {"test": "round(datum.value*10) % 2 != 0", "value": 1.6}, "value": 1}}},
      "color": {"field": "a", "type": "nominal"}}},
    {"data": {"name": "pts"}, "transform": [{"filter": "datum.o=='10%' && datum.m=='10' && datum.a=='DESeq2'"}], "mark": {"type": "point", "shape": "circle", "filled": true, "size": 55, "opacity": 1}, "encoding": {"x": {"field": "x", "type": "quantitative"}, "y": {"field": "y", "type": "quantitative"}, "color": {"field": "a", "type": "nominal"}}},
    {"data": {"name": "pts"}, "transform": [{"filter": "datum.o=='10%' && datum.m=='10' && datum.a=='DESeq2-noFilt'"}], "mark": {"type": "point", "shape": "triangle-up", "filled": true, "size": 55, "opacity": 1}, "encoding": {"x": {"field": "x", "type": "quantitative"}, "y": {"field": "y", "type": "quantitative"}, "color": {"field": "a", "type": "nominal"}}},
    {"data": {"name": "pts"}, "transform": [{"filter": "datum.o=='10%' && datum.m=='10' && datum.a=='edgeR'"}], "mark": {"type": "point", "shape": "M-1.2,0H1.2M0,-1.2V1.2", "filled": false, "size": 64, "strokeWidth": 1.3, "opacity": 1}, "encoding": {"x": {"field": "x", "type": "quantitative"}, "y": {"field": "y", "type": "quantitative"}, "color": {"field": "a", "type": "nominal"}}},
    {"data": {"name": "pts"}, "transform": [{"filter": "datum.o=='10%' && datum.m=='10' && datum.a=='edgeR-robust'"}], "mark": {"type": "point", "shape": "M-0.9,-0.9H0.9V0.9H-0.9ZM-0.9,-0.9L0.9,0.9M-0.9,0.9L0.9,-0.9", "filled": false, "size": 64, "strokeWidth": 1.2, "opacity": 1}, "encoding": {"x": {"field": "x", "type": "quantitative"}, "y": {"field": "y", "type": "quantitative"}, "color": {"field": "a", "type": "nominal"}}}
  ]}
]},
{"spacing": 0, "hconcat": [
 {"spacing": 0, "bounds": "flush", "vconcat": [
  {"width": 151, "height": 23, "view": {"fill": "#cccccc"}, "data": {"values": [{"t": "15% outlier"}]}, "mark": {"type": "text", "fontSize": 15.5, "color": "#1a1a1a", "baseline": "middle", "align": "center"}, "encoding": {"text": {"field": "t", "type": "nominal"}}},
  {"width": 151, "height": 178, "layer": [
    {"data": {"name": "roc"}, "transform": [{"filter": "datum.o=='15%' && datum.m=='10'"}], "mark": {"type": "line", "strokeWidth": 1.6, "clip": true},
     "encoding": {
      "x": {"field": "x", "type": "quantitative", "scale": {"domain": [-0.03, 0.2496], "nice": false, "zero": false}, "axis": {"values": [0,0.05,0.1,0.15,0.2], "title": null, "labels": false, "ticks": false, "minExtent": 0, "gridColor": {"condition": {"test": "round(datum.value*100) % 10 != 0", "value": "#f3f3f3"}, "value": "#e3e3e3"}, "gridWidth": {"condition": {"test": "round(datum.value*100) % 10 != 0", "value": 1.6}, "value": 1}}},
      "y": {"field": "y", "type": "quantitative", "scale": {"domain": [-0.047, 0.905], "nice": false, "zero": false}, "axis": {"values": [0,0.1,0.2,0.3,0.4,0.5,0.6,0.7,0.8], "title": null, "labels": false, "ticks": false, "minExtent": 0, "gridColor": {"condition": {"test": "round(datum.value*10) % 2 != 0", "value": "#f3f3f3"}, "value": "#e3e3e3"}, "gridWidth": {"condition": {"test": "round(datum.value*10) % 2 != 0", "value": 1.6}, "value": 1}}},
      "color": {"field": "a", "type": "nominal"}}},
    {"data": {"name": "pts"}, "transform": [{"filter": "datum.o=='15%' && datum.m=='10' && datum.a=='DESeq2'"}], "mark": {"type": "point", "shape": "circle", "filled": true, "size": 55, "opacity": 1}, "encoding": {"x": {"field": "x", "type": "quantitative"}, "y": {"field": "y", "type": "quantitative"}, "color": {"field": "a", "type": "nominal"}}},
    {"data": {"name": "pts"}, "transform": [{"filter": "datum.o=='15%' && datum.m=='10' && datum.a=='DESeq2-noFilt'"}], "mark": {"type": "point", "shape": "triangle-up", "filled": true, "size": 55, "opacity": 1}, "encoding": {"x": {"field": "x", "type": "quantitative"}, "y": {"field": "y", "type": "quantitative"}, "color": {"field": "a", "type": "nominal"}}},
    {"data": {"name": "pts"}, "transform": [{"filter": "datum.o=='15%' && datum.m=='10' && datum.a=='edgeR'"}], "mark": {"type": "point", "shape": "M-1.2,0H1.2M0,-1.2V1.2", "filled": false, "size": 64, "strokeWidth": 1.3, "opacity": 1}, "encoding": {"x": {"field": "x", "type": "quantitative"}, "y": {"field": "y", "type": "quantitative"}, "color": {"field": "a", "type": "nominal"}}},
    {"data": {"name": "pts"}, "transform": [{"filter": "datum.o=='15%' && datum.m=='10' && datum.a=='edgeR-robust'"}], "mark": {"type": "point", "shape": "M-0.9,-0.9H0.9V0.9H-0.9ZM-0.9,-0.9L0.9,0.9M-0.9,0.9L0.9,-0.9", "filled": false, "size": 64, "strokeWidth": 1.2, "opacity": 1}, "encoding": {"x": {"field": "x", "type": "quantitative"}, "y": {"field": "y", "type": "quantitative"}, "color": {"field": "a", "type": "nominal"}}}
  ]}
 ]},
 {"spacing": 0, "bounds": "flush", "vconcat": [
  {"width": 24, "height": 23, "view": {"stroke": null}, "data": {"values": [{"t": ""}]}, "mark": {"type": "text"}, "encoding": {"text": {"field": "t", "type": "nominal"}}},
  {"width": 24, "height": 178, "view": {"fill": "#cccccc"}, "data": {"values": [{"t": "m=10"}]}, "mark": {"type": "text", "fontSize": 15.5, "color": "#1a1a1a", "angle": 90, "baseline": "middle", "align": "center"}, "encoding": {"text": {"field": "t", "type": "nominal"}}}
 ]}
]}
]
},
{
"spacing": 3.5,
"hconcat": [
  {"width": 151, "height": 178, "layer": [
    {"data": {"name": "roc"}, "transform": [{"filter": "datum.o=='0%' && datum.m=='20'"}], "mark": {"type": "line", "strokeWidth": 1.6, "clip": true},
     "encoding": {
      "x": {"field": "x", "type": "quantitative", "scale": {"domain": [-0.03, 0.2496], "nice": false, "zero": false}, "axis": {"values": [0,0.05,0.1,0.15,0.2], "title": null, "labelExpr": "round(datum.value*100) % 10 == 0 ? format(datum.value, '.1f') : ''", "labelOverlap": false, "labelFlush": false, "labelPadding": 4, "tickOpacity": {"condition": {"test": "round(datum.value*100) % 10 != 0", "value": 0}, "value": 1}, "gridColor": {"condition": {"test": "round(datum.value*100) % 10 != 0", "value": "#f3f3f3"}, "value": "#e3e3e3"}, "gridWidth": {"condition": {"test": "round(datum.value*100) % 10 != 0", "value": 1.6}, "value": 1}}},
      "y": {"field": "y", "type": "quantitative", "scale": {"domain": [-0.047, 0.905], "nice": false, "zero": false}, "axis": {"values": [0,0.1,0.2,0.3,0.4,0.5,0.6,0.7,0.8], "title": null, "labelExpr": "round(datum.value*10) % 2 == 0 ? format(datum.value, '.1f') : ''", "labelOverlap": false, "labelFlush": false, "labelPadding": 5, "tickOpacity": {"condition": {"test": "round(datum.value*10) % 2 != 0", "value": 0}, "value": 1}, "gridColor": {"condition": {"test": "round(datum.value*10) % 2 != 0", "value": "#f3f3f3"}, "value": "#e3e3e3"}, "gridWidth": {"condition": {"test": "round(datum.value*10) % 2 != 0", "value": 1.6}, "value": 1}}},
      "color": {"field": "a", "type": "nominal"}}},
    {"data": {"name": "pts"}, "transform": [{"filter": "datum.o=='0%' && datum.m=='20' && datum.a=='DESeq2'"}], "mark": {"type": "point", "shape": "circle", "filled": true, "size": 55, "opacity": 1}, "encoding": {"x": {"field": "x", "type": "quantitative"}, "y": {"field": "y", "type": "quantitative"}, "color": {"field": "a", "type": "nominal"}}},
    {"data": {"name": "pts"}, "transform": [{"filter": "datum.o=='0%' && datum.m=='20' && datum.a=='DESeq2-noRepl'"}], "mark": {"type": "point", "shape": "square", "filled": true, "size": 50, "opacity": 1}, "encoding": {"x": {"field": "x", "type": "quantitative"}, "y": {"field": "y", "type": "quantitative"}, "color": {"field": "a", "type": "nominal"}}},
    {"data": {"name": "pts"}, "transform": [{"filter": "datum.o=='0%' && datum.m=='20' && datum.a=='edgeR'"}], "mark": {"type": "point", "shape": "M-1.2,0H1.2M0,-1.2V1.2", "filled": false, "size": 64, "strokeWidth": 1.3, "opacity": 1}, "encoding": {"x": {"field": "x", "type": "quantitative"}, "y": {"field": "y", "type": "quantitative"}, "color": {"field": "a", "type": "nominal"}}},
    {"data": {"name": "pts"}, "transform": [{"filter": "datum.o=='0%' && datum.m=='20' && datum.a=='edgeR-robust'"}], "mark": {"type": "point", "shape": "M-0.9,-0.9H0.9V0.9H-0.9ZM-0.9,-0.9L0.9,0.9M-0.9,0.9L0.9,-0.9", "filled": false, "size": 64, "strokeWidth": 1.2, "opacity": 1}, "encoding": {"x": {"field": "x", "type": "quantitative"}, "y": {"field": "y", "type": "quantitative"}, "color": {"field": "a", "type": "nominal"}}}
  ]},
  {"width": 151, "height": 178, "layer": [
    {"data": {"name": "roc"}, "transform": [{"filter": "datum.o=='5%' && datum.m=='20'"}], "mark": {"type": "line", "strokeWidth": 1.6, "clip": true},
     "encoding": {
      "x": {"field": "x", "type": "quantitative", "scale": {"domain": [-0.03, 0.2496], "nice": false, "zero": false}, "axis": {"values": [0,0.05,0.1,0.15,0.2], "title": null, "labelExpr": "round(datum.value*100) % 10 == 0 ? format(datum.value, '.1f') : ''", "labelOverlap": false, "labelFlush": false, "labelPadding": 4, "tickOpacity": {"condition": {"test": "round(datum.value*100) % 10 != 0", "value": 0}, "value": 1}, "gridColor": {"condition": {"test": "round(datum.value*100) % 10 != 0", "value": "#f3f3f3"}, "value": "#e3e3e3"}, "gridWidth": {"condition": {"test": "round(datum.value*100) % 10 != 0", "value": 1.6}, "value": 1}}},
      "y": {"field": "y", "type": "quantitative", "scale": {"domain": [-0.047, 0.905], "nice": false, "zero": false}, "axis": {"values": [0,0.1,0.2,0.3,0.4,0.5,0.6,0.7,0.8], "title": null, "labels": false, "ticks": false, "minExtent": 0, "gridColor": {"condition": {"test": "round(datum.value*10) % 2 != 0", "value": "#f3f3f3"}, "value": "#e3e3e3"}, "gridWidth": {"condition": {"test": "round(datum.value*10) % 2 != 0", "value": 1.6}, "value": 1}}},
      "color": {"field": "a", "type": "nominal"}}},
    {"data": {"name": "pts"}, "transform": [{"filter": "datum.o=='5%' && datum.m=='20' && datum.a=='DESeq2'"}], "mark": {"type": "point", "shape": "circle", "filled": true, "size": 55, "opacity": 1}, "encoding": {"x": {"field": "x", "type": "quantitative"}, "y": {"field": "y", "type": "quantitative"}, "color": {"field": "a", "type": "nominal"}}},
    {"data": {"name": "pts"}, "transform": [{"filter": "datum.o=='5%' && datum.m=='20' && datum.a=='DESeq2-noRepl'"}], "mark": {"type": "point", "shape": "square", "filled": true, "size": 50, "opacity": 1}, "encoding": {"x": {"field": "x", "type": "quantitative"}, "y": {"field": "y", "type": "quantitative"}, "color": {"field": "a", "type": "nominal"}}},
    {"data": {"name": "pts"}, "transform": [{"filter": "datum.o=='5%' && datum.m=='20' && datum.a=='edgeR'"}], "mark": {"type": "point", "shape": "M-1.2,0H1.2M0,-1.2V1.2", "filled": false, "size": 64, "strokeWidth": 1.3, "opacity": 1}, "encoding": {"x": {"field": "x", "type": "quantitative"}, "y": {"field": "y", "type": "quantitative"}, "color": {"field": "a", "type": "nominal"}}},
    {"data": {"name": "pts"}, "transform": [{"filter": "datum.o=='5%' && datum.m=='20' && datum.a=='edgeR-robust'"}], "mark": {"type": "point", "shape": "M-0.9,-0.9H0.9V0.9H-0.9ZM-0.9,-0.9L0.9,0.9M-0.9,0.9L0.9,-0.9", "filled": false, "size": 64, "strokeWidth": 1.2, "opacity": 1}, "encoding": {"x": {"field": "x", "type": "quantitative"}, "y": {"field": "y", "type": "quantitative"}, "color": {"field": "a", "type": "nominal"}}}
  ]},
  {"width": 151, "height": 178, "layer": [
    {"data": {"name": "roc"}, "transform": [{"filter": "datum.o=='10%' && datum.m=='20'"}], "mark": {"type": "line", "strokeWidth": 1.6, "clip": true},
     "encoding": {
      "x": {"field": "x", "type": "quantitative", "scale": {"domain": [-0.03, 0.2496], "nice": false, "zero": false}, "axis": {"values": [0,0.05,0.1,0.15,0.2], "title": null, "labelExpr": "round(datum.value*100) % 10 == 0 ? format(datum.value, '.1f') : ''", "labelOverlap": false, "labelFlush": false, "labelPadding": 4, "tickOpacity": {"condition": {"test": "round(datum.value*100) % 10 != 0", "value": 0}, "value": 1}, "gridColor": {"condition": {"test": "round(datum.value*100) % 10 != 0", "value": "#f3f3f3"}, "value": "#e3e3e3"}, "gridWidth": {"condition": {"test": "round(datum.value*100) % 10 != 0", "value": 1.6}, "value": 1}}},
      "y": {"field": "y", "type": "quantitative", "scale": {"domain": [-0.047, 0.905], "nice": false, "zero": false}, "axis": {"values": [0,0.1,0.2,0.3,0.4,0.5,0.6,0.7,0.8], "title": null, "labels": false, "ticks": false, "minExtent": 0, "gridColor": {"condition": {"test": "round(datum.value*10) % 2 != 0", "value": "#f3f3f3"}, "value": "#e3e3e3"}, "gridWidth": {"condition": {"test": "round(datum.value*10) % 2 != 0", "value": 1.6}, "value": 1}}},
      "color": {"field": "a", "type": "nominal"}}},
    {"data": {"name": "pts"}, "transform": [{"filter": "datum.o=='10%' && datum.m=='20' && datum.a=='DESeq2'"}], "mark": {"type": "point", "shape": "circle", "filled": true, "size": 55, "opacity": 1}, "encoding": {"x": {"field": "x", "type": "quantitative"}, "y": {"field": "y", "type": "quantitative"}, "color": {"field": "a", "type": "nominal"}}},
    {"data": {"name": "pts"}, "transform": [{"filter": "datum.o=='10%' && datum.m=='20' && datum.a=='DESeq2-noRepl'"}], "mark": {"type": "point", "shape": "square", "filled": true, "size": 50, "opacity": 1}, "encoding": {"x": {"field": "x", "type": "quantitative"}, "y": {"field": "y", "type": "quantitative"}, "color": {"field": "a", "type": "nominal"}}},
    {"data": {"name": "pts"}, "transform": [{"filter": "datum.o=='10%' && datum.m=='20' && datum.a=='edgeR'"}], "mark": {"type": "point", "shape": "M-1.2,0H1.2M0,-1.2V1.2", "filled": false, "size": 64, "strokeWidth": 1.3, "opacity": 1}, "encoding": {"x": {"field": "x", "type": "quantitative"}, "y": {"field": "y", "type": "quantitative"}, "color": {"field": "a", "type": "nominal"}}},
    {"data": {"name": "pts"}, "transform": [{"filter": "datum.o=='10%' && datum.m=='20' && datum.a=='edgeR-robust'"}], "mark": {"type": "point", "shape": "M-0.9,-0.9H0.9V0.9H-0.9ZM-0.9,-0.9L0.9,0.9M-0.9,0.9L0.9,-0.9", "filled": false, "size": 64, "strokeWidth": 1.2, "opacity": 1}, "encoding": {"x": {"field": "x", "type": "quantitative"}, "y": {"field": "y", "type": "quantitative"}, "color": {"field": "a", "type": "nominal"}}}
  ]},
  {"spacing": 0, "bounds": "flush", "hconcat": [
  {"width": 151, "height": 178, "layer": [
    {"data": {"name": "roc"}, "transform": [{"filter": "datum.o=='15%' && datum.m=='20'"}], "mark": {"type": "line", "strokeWidth": 1.6, "clip": true},
     "encoding": {
      "x": {"field": "x", "type": "quantitative", "scale": {"domain": [-0.03, 0.2496], "nice": false, "zero": false}, "axis": {"values": [0,0.05,0.1,0.15,0.2], "title": null, "labelExpr": "round(datum.value*100) % 10 == 0 ? format(datum.value, '.1f') : ''", "labelOverlap": false, "labelFlush": false, "labelPadding": 4, "tickOpacity": {"condition": {"test": "round(datum.value*100) % 10 != 0", "value": 0}, "value": 1}, "gridColor": {"condition": {"test": "round(datum.value*100) % 10 != 0", "value": "#f3f3f3"}, "value": "#e3e3e3"}, "gridWidth": {"condition": {"test": "round(datum.value*100) % 10 != 0", "value": 1.6}, "value": 1}}},
      "y": {"field": "y", "type": "quantitative", "scale": {"domain": [-0.047, 0.905], "nice": false, "zero": false}, "axis": {"values": [0,0.1,0.2,0.3,0.4,0.5,0.6,0.7,0.8], "title": null, "labels": false, "ticks": false, "minExtent": 0, "gridColor": {"condition": {"test": "round(datum.value*10) % 2 != 0", "value": "#f3f3f3"}, "value": "#e3e3e3"}, "gridWidth": {"condition": {"test": "round(datum.value*10) % 2 != 0", "value": 1.6}, "value": 1}}},
      "color": {"field": "a", "type": "nominal"}}},
    {"data": {"name": "pts"}, "transform": [{"filter": "datum.o=='15%' && datum.m=='20' && datum.a=='DESeq2'"}], "mark": {"type": "point", "shape": "circle", "filled": true, "size": 55, "opacity": 1}, "encoding": {"x": {"field": "x", "type": "quantitative"}, "y": {"field": "y", "type": "quantitative"}, "color": {"field": "a", "type": "nominal"}}},
    {"data": {"name": "pts"}, "transform": [{"filter": "datum.o=='15%' && datum.m=='20' && datum.a=='DESeq2-noRepl'"}], "mark": {"type": "point", "shape": "square", "filled": true, "size": 50, "opacity": 1}, "encoding": {"x": {"field": "x", "type": "quantitative"}, "y": {"field": "y", "type": "quantitative"}, "color": {"field": "a", "type": "nominal"}}},
    {"data": {"name": "pts"}, "transform": [{"filter": "datum.o=='15%' && datum.m=='20' && datum.a=='edgeR'"}], "mark": {"type": "point", "shape": "M-1.2,0H1.2M0,-1.2V1.2", "filled": false, "size": 64, "strokeWidth": 1.3, "opacity": 1}, "encoding": {"x": {"field": "x", "type": "quantitative"}, "y": {"field": "y", "type": "quantitative"}, "color": {"field": "a", "type": "nominal"}}},
    {"data": {"name": "pts"}, "transform": [{"filter": "datum.o=='15%' && datum.m=='20' && datum.a=='edgeR-robust'"}], "mark": {"type": "point", "shape": "M-0.9,-0.9H0.9V0.9H-0.9ZM-0.9,-0.9L0.9,0.9M-0.9,0.9L0.9,-0.9", "filled": false, "size": 64, "strokeWidth": 1.2, "opacity": 1}, "encoding": {"x": {"field": "x", "type": "quantitative"}, "y": {"field": "y", "type": "quantitative"}, "color": {"field": "a", "type": "nominal"}}}
  ]},
  {"width": 24, "height": 178, "view": {"fill": "#cccccc"}, "data": {"values": [{"t": "m=20"}]}, "mark": {"type": "text", "fontSize": 15.5, "color": "#1a1a1a", "angle": 90, "baseline": "middle", "align": "center"}, "encoding": {"text": {"field": "t", "type": "nominal"}}}
  ]}
]
}
]
}
]
}
]
}
